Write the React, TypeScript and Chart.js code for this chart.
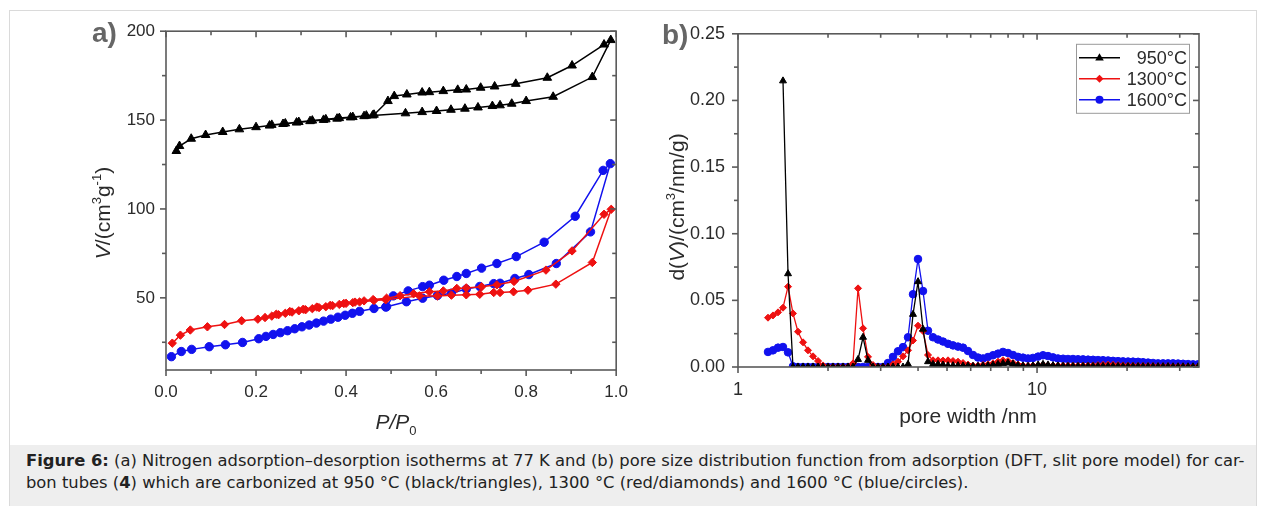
import React, { useEffect, useRef } from 'react';
import { Chart, registerables } from 'chart.js';

Chart.register(...registerables);

const FONT = '"Liberation Sans", Arial, Helvetica, sans-serif';

// ---------------- Panel a: N2 isotherms (P/P0 vs V) ----------------
const p950Ads = [0.023, 0.03, 0.056, 0.088, 0.126, 0.163, 0.2, 0.23, 0.26, 0.29, 0.32, 0.35, 0.38, 0.41, 0.44, 0.459, 0.532, 0.569, 0.601, 0.633, 0.664, 0.693, 0.725, 0.742, 0.768, 0.8, 0.86, 0.947, 0.988];
const v950Ads = [132.6, 135.4, 139.5, 141.6, 143.3, 144.8, 146, 146.9, 147.8, 148.6, 149.4, 150.1, 150.8, 151.5, 152.2, 152.6, 153.8, 154.5, 155.1, 155.8, 156.4, 157.1, 157.9, 158.3, 159.2, 160.7, 163.1, 174.2, 195.0];
const p950Des = [0.973, 0.902, 0.847, 0.777, 0.73, 0.699, 0.667, 0.648, 0.616, 0.585, 0.569, 0.535, 0.507, 0.493, 0.462, 0.445, 0.415, 0.385, 0.355, 0.325, 0.295, 0.265, 0.235];
const v950Des = [192.5, 180.7, 173.8, 170.4, 168.9, 168.2, 167.2, 167, 166.3, 165.7, 165.5, 164.4, 163.5, 160.7, 153.0, 152.5, 151.7, 151.1, 150.4, 149.7, 148.9, 148.1, 147.3];

const p1300Ads = [0.014, 0.032, 0.054, 0.092, 0.13, 0.168, 0.204, 0.22, 0.235, 0.25, 0.265, 0.28, 0.295, 0.31, 0.325, 0.34, 0.355, 0.37, 0.385, 0.4, 0.415, 0.43, 0.462, 0.488, 0.563, 0.603, 0.634, 0.667, 0.697, 0.728, 0.742, 0.772, 0.804, 0.866, 0.947, 0.989];
const v1300Ads = [24.5, 29, 31.9, 33.7, 35, 37.1, 38, 38.9, 39.7, 40.5, 41.3, 42, 42.7, 43.3, 43.9, 44.5, 45, 45.6, 46.3, 46.9, 47.3, 47.7, 48.5, 48.9, 51.1, 51.1, 51.5, 51.7, 52, 53, 53, 53.4, 54.3, 57.7, 69.9, 99.8];
const p1300Des = [0.973, 0.902, 0.844, 0.773, 0.735, 0.701, 0.667, 0.646, 0.616, 0.585, 0.55, 0.52, 0.49, 0.46, 0.44, 0.42, 0.395, 0.365, 0.335, 0.305, 0.275, 0.245];
const v1300Des = [97, 76.4, 65.6, 59.2, 57.3, 56.2, 55.6, 55.3, 53.9, 53.4, 52.3, 51.2, 49.8, 49.0, 48.3, 47.6, 46.8, 45.8, 44.8, 43.6, 42.3, 40.8];

const p1600Ads = [0.012, 0.034, 0.057, 0.096, 0.132, 0.17, 0.206, 0.222, 0.238, 0.254, 0.27, 0.286, 0.302, 0.318, 0.334, 0.35, 0.366, 0.382, 0.398, 0.414, 0.43, 0.462, 0.488, 0.534, 0.57, 0.603, 0.634, 0.667, 0.697, 0.728, 0.742, 0.775, 0.806, 0.867, 0.943, 0.987];
const v1600Ads = [16.9, 19.8, 21, 22.5, 23.6, 24.9, 27, 28.3, 29.4, 30.4, 31.5, 32.6, 33.7, 34.7, 35.8, 36.9, 38, 39.1, 40.2, 41.3, 42.4, 44, 44.8, 47.8, 49.8, 51.3, 52.6, 54.9, 56.4, 58, 58.2, 60.9, 63.1, 69.3, 87.1, 125.5];
const p1600Des = [0.971, 0.909, 0.84, 0.778, 0.735, 0.701, 0.667, 0.646, 0.617, 0.585, 0.57, 0.538, 0.505, 0.49];
const v1600Des = [121.7, 95.9, 81.3, 73.2, 69.3, 66.7, 63.7, 62, 59.9, 57.1, 56.3, 53.9, 51.1, 45.0];

const isoXTicks = [0, 0.2, 0.4, 0.6, 0.8, 1.0];
const isoXMinor = [0.1, 0.3, 0.5, 0.7, 0.9];
const isoYTicks = [50, 100, 150, 200];
const isoYMinor = [25, 75, 125, 175];

// ---------------- Panel b: pore size distribution ----------------
const poreWidth = [1.26, 1.309, 1.361, 1.414, 1.47, 1.527, 1.587, 1.65, 1.714, 1.782, 1.852, 1.924, 2.0, 2.078, 2.16, 2.245, 2.333, 2.424, 2.52, 2.619, 2.721, 2.828, 2.939, 3.054, 3.174, 3.299, 3.428, 3.563, 3.703, 3.848, 3.999, 4.156, 4.319, 4.489, 4.665, 4.848, 5.038, 5.236, 5.441, 5.655, 5.877, 6.107, 6.347, 6.596, 6.855, 7.124, 7.404, 7.694, 7.996, 8.31, 8.636, 8.975, 9.33, 9.69, 10.08, 10.47, 10.88, 11.31, 11.75, 12.22, 12.69, 13.19, 13.71, 14.25, 14.81, 15.39, 15.99, 16.62, 17.28, 17.95, 18.66, 19.39, 20.15, 20.94, 21.77, 22.62, 23.51, 24.43, 25.39, 26.39, 27.42, 28.5, 29.62, 30.78, 31.99, 33.24, 34.55];
const psd950 = [null, null, null, 0.2147, 0.07, 0, 0, 0, 0, 0, 0, 0, 0, 0, 0, 0, 0, 0, 0.0057, 0.0223, 0.005, 0, 0, 0, 0, 0, 0, 0, 0.002, 0.0395, 0.064, 0.0284, 0.004, 0.002, 0.002, 0.0015, 0.001, 0.001, 0.001, 0.0008, 0.0008, 0.0005, 0.0005, 0.0008, 0.001, 0.0015, 0.002, 0.0027, 0.003, 0.0022, 0.0012, 0.0008, 0.0005, 0.0008, 0.0015, 0.002, 0.0015, 0.001, 0.0008, 0.0006, 0.0005, 0.0005, 0.0005, 0.0005, 0.0005, 0.0005, 0.0005, 0.0005, 0.0005, 0.0005, 0.0005, 0.0004, 0.0004, 0.0004, 0.0004, 0.0003, 0.0003, 0.0003, 0.0003, 0.0003, 0.0003, 0.0002, 0.0002, 0.0002, 0.0002, 0.0002, 0.0002];
const psd1300 = [0.037, 0.0387, 0.041, 0.0445, 0.0603, 0.0402, 0.0265, 0.0185, 0.0125, 0.008, 0.0045, 0.0012, 0, 0, 0, 0, 0, 0.0027, 0.059, 0.029, 0.0076, 0.0015, 0, 0, 0, 0.002, 0.004, 0.008, 0.0125, 0.0199, 0.031, 0.027, 0.009, 0.005, 0.005, 0.0048, 0.005, 0.0045, 0.004, 0.003, 0.0018, 0.001, 0.001, 0.0015, 0.002, 0.0027, 0.004, 0.005, 0.0045, 0.003, 0.0018, 0.001, 0.0008, 0.001, 0.0012, 0.0015, 0.0012, 0.001, 0.001, 0.001, 0.001, 0.0009, 0.0009, 0.001, 0.0011, 0.0012, 0.0014, 0.0016, 0.0017, 0.0016, 0.0014, 0.0012, 0.001, 0.0009, 0.0008, 0.0008, 0.0007, 0.0007, 0.0006, 0.0006, 0.0006, 0.0005, 0.0005, 0.0005, 0.0004, 0.0004, 0.0004];
const psd1600 = [0.0113, 0.0125, 0.0145, 0.015, 0.011, 0.0005, 0, 0, 0, 0, 0, 0, 0, 0, 0, 0, 0, 0, 0, 0, 0, 0, 0, 0, 0.003, 0.0076, 0.0118, 0.0149, 0.0223, 0.0546, 0.081, 0.057, 0.0272, 0.0223, 0.0206, 0.0191, 0.0174, 0.0162, 0.0153, 0.0145, 0.012, 0.009, 0.0071, 0.0064, 0.0075, 0.0088, 0.01, 0.0113, 0.0105, 0.009, 0.0076, 0.007, 0.0064, 0.0068, 0.0078, 0.0088, 0.0082, 0.0072, 0.0064, 0.0062, 0.006, 0.006, 0.0058, 0.0057, 0.0055, 0.0054, 0.0052, 0.0051, 0.0049, 0.0046, 0.0044, 0.0042, 0.0041, 0.004, 0.0039, 0.0036, 0.0033, 0.003, 0.0027, 0.0027, 0.0027, 0.0027, 0.0026, 0.0024, 0.0022, 0.002, 0.002];

const psdXTicks = [1, 10];
const psdXMinor = [2, 3, 4, 5, 6, 7, 8, 9, 20, 30];
const psdYTicks = [0, 0.05, 0.1, 0.15, 0.2, 0.25];
const psdYMinor = [0.025, 0.075, 0.125, 0.175, 0.225];

const seriesLabels = ['950°C', '1300°C', '1600°C'];
const seriesColors = ['#000000', '#ee1111', '#1111ee'];
const seriesMarkers = ['triangle', 'rectRot', 'circle'];

type Seg = { t: string; italic?: boolean; sup?: boolean; sub?: boolean };

function drawRich(ctx: CanvasRenderingContext2D, segs: Seg[], cx: number, cy: number, size: number, color: string, rot: number) {
  ctx.save();
  ctx.translate(cx, cy);
  ctx.rotate(rot);
  const small = Math.round(size * 0.62);
  const font = (s: Seg) => `${s.italic ? 'italic ' : ''}${s.sup || s.sub ? small : size}px ${FONT}`;
  let total = 0;
  const ws = segs.map((s) => {
    ctx.font = font(s);
    const w = ctx.measureText(s.t).width;
    total += w;
    return w;
  });
  let x = -total / 2;
  const base = size * 0.36;
  ctx.fillStyle = color;
  ctx.textBaseline = 'alphabetic';
  ctx.textAlign = 'left';
  segs.forEach((s, i) => {
    ctx.font = font(s);
    const dy = s.sup ? -size * 0.4 : s.sub ? size * 0.3 : 0;
    ctx.fillText(s.t, x, base + dy);
    x += ws[i];
  });
  ctx.restore();
}

function drawMarker(ctx: CanvasRenderingContext2D, kind: string, x: number, y: number, r: number) {
  ctx.beginPath();
  if (kind === 'triangle') {
    ctx.moveTo(x, y - r);
    ctx.lineTo(x + r * 0.95, y + r * 0.6);
    ctx.lineTo(x - r * 0.95, y + r * 0.6);
    ctx.closePath();
  } else if (kind === 'rectRot') {
    ctx.moveTo(x, y - r);
    ctx.lineTo(x + r, y);
    ctx.lineTo(x, y + r);
    ctx.lineTo(x - r, y);
    ctx.closePath();
  } else {
    ctx.arc(x, y, r, 0, Math.PI * 2);
  }
  ctx.fill();
}

function framePlugin(xMajor: number[], xMinor: number[], yMajor: number[], yMinor: number[]) {
  return {
    id: 'frame',
    afterDatasetsDraw(chart: any) {
      const { ctx, chartArea: a, scales } = chart;
      const sx = scales.x;
      const sy = scales.y;
      ctx.save();
      ctx.strokeStyle = '#5a5a5a';
      ctx.lineWidth = 1.6;
      ctx.strokeRect(a.left, a.top, a.right - a.left, a.bottom - a.top);
      const line = (x1: number, y1: number, x2: number, y2: number) => {
        ctx.beginPath();
        ctx.moveTo(x1, y1);
        ctx.lineTo(x2, y2);
        ctx.stroke();
      };
      const xt = (vals: number[], len: number) => vals.forEach((v) => {
        const p = sx.getPixelForValue(v);
        line(p, a.bottom, p, a.bottom + len);
        line(p, a.top, p, a.top + len);
      });
      const yt = (vals: number[], len: number) => vals.forEach((v) => {
        const p = sy.getPixelForValue(v);
        line(a.left - len, p, a.left, p);
        line(a.right, p, a.right - len, p);
      });
      xt(xMajor, 6);
      xt(xMinor, 4);
      yt(yMajor, 6);
      yt(yMinor, 4);
      ctx.restore();
    },
  };
}

type TextItem = { segs: Seg[]; x: number; y: number; size: number; rot: number };

function textPlugin(items: TextItem[], panel: { t: string; x: number; y: number }, legend: boolean) {
  return {
    id: 'texts',
    afterDraw(chart: any) {
      const ctx = chart.ctx as CanvasRenderingContext2D;
      items.forEach((it) => drawRich(ctx, it.segs, it.x, it.y, it.size, '#2b2b2b', it.rot));
      ctx.save();
      ctx.font = `bold 28px ${FONT}`;
      ctx.fillStyle = '#666666';
      ctx.textBaseline = 'alphabetic';
      ctx.textAlign = 'left';
      ctx.fillText(panel.t, panel.x, panel.y);
      ctx.restore();
      if (legend) {
        const a = chart.chartArea;
        const lx = a.right - 123;
        const ly = a.top + 10;
        const lw = 113;
        const lh = 69;
        ctx.save();
        ctx.fillStyle = '#ffffff';
        ctx.fillRect(lx, ly, lw, lh);
        ctx.strokeStyle = '#9a9a9a';
        ctx.lineWidth = 1;
        ctx.strokeRect(lx + 0.5, ly + 0.5, lw, lh);
        seriesLabels.forEach((lab, i) => {
          const ry = ly + 14 + i * 21;
          ctx.strokeStyle = seriesColors[i];
          ctx.lineWidth = 1.5;
          ctx.beginPath();
          ctx.moveTo(lx + 3, ry);
          ctx.lineTo(lx + 44, ry);
          ctx.stroke();
          ctx.fillStyle = seriesColors[i];
          drawMarker(ctx, seriesMarkers[i], lx + 23.5, ry, i === 0 ? 4.5 : 4);
          ctx.fillStyle = '#2b2b2b';
          ctx.font = `18px ${FONT}`;
          ctx.textAlign = 'right';
          ctx.textBaseline = 'middle';
          ctx.fillText(lab, lx + lw - 2, ry + 1);
        });
        ctx.restore();
      }
    },
  };
}

function loop(pA: number[], vA: number[], pD: number[], vD: number[]) {
  return [...pA.map((x, i) => ({ x, y: vA[i] })), ...pD.map((x, i) => ({ x, y: vD[i] }))];
}

function axisCommon(size: number, padding: number) {
  return {
    grid: { display: false, drawTicks: false },
    border: { display: false },
    ticks: { font: { family: FONT, size }, color: '#2b2b2b', padding, maxRotation: 0, autoSkip: false },
  };
}

function isoConfig(): any {
  const ds = (i: number, data: any[]) => ({
    label: seriesLabels[i],
    data,
    showLine: true,
    borderColor: seriesColors[i],
    backgroundColor: seriesColors[i],
    borderWidth: 1.5,
    pointStyle: seriesMarkers[i],
    pointRadius: i === 0 ? 5 : 4.2,
    pointBorderWidth: 1,
    pointBorderColor: seriesColors[i],
  });
  const xc = axisCommon(17, 12);
  const yc = axisCommon(17, 11);
  return {
    type: 'scatter',
    data: {
      datasets: [
        ds(0, loop(p950Ads, v950Ads, p950Des, v950Des)),
        ds(1, loop(p1300Ads, v1300Ads, p1300Des, v1300Des)),
        ds(2, loop(p1600Ads, v1600Ads, p1600Des, v1600Des)),
      ],
    },
    options: {
      animation: false,
      responsive: false,
      devicePixelRatio: 1,
      layout: { padding: { left: 0, top: 19, right: 14, bottom: 0 } },
      plugins: { legend: { display: false }, tooltip: { enabled: false } },
      scales: {
        x: {
          type: 'linear', min: 0, max: 1, ...xc,
          ticks: { ...xc.ticks, callback: (v: any) => Number(v).toFixed(1) },
          afterBuildTicks: (s: any) => { s.ticks = isoXTicks.map((value) => ({ value })); },
          afterFit: (s: any) => { s.height = 70; },
        },
        y: {
          type: 'linear', min: 9.4, max: 200, ...yc,
          ticks: { ...yc.ticks, callback: (v: any) => String(v) },
          afterBuildTicks: (s: any) => { s.ticks = isoYTicks.map((value) => ({ value })); },
          afterFit: (s: any) => { s.width = 156; },
        },
      },
    },
    plugins: [
      framePlugin(isoXTicks, isoXMinor, isoYTicks, isoYMinor),
      textPlugin(
        [
          { segs: [{ t: 'V', italic: true }, { t: '/(cm' }, { t: '3', sup: true }, { t: 'g' }, { t: '-1', sup: true }, { t: ')' }], x: 92, y: 203, size: 21, rot: -Math.PI / 2 },
          { segs: [{ t: 'P', italic: true }, { t: '/', italic: true }, { t: 'P', italic: true }, { t: '0', sub: true }], x: 386, y: 411, size: 21, rot: 0 },
        ],
        { t: 'a)', x: 82, y: 32 },
        false,
      ),
    ],
  };
}

function psdConfig(): any {
  const ds = (i: number, vals: (number | null)[]) => ({
    label: seriesLabels[i],
    data: poreWidth.map((x, k) => ({ x, y: vals[k] })),
    showLine: true,
    borderColor: seriesColors[i],
    backgroundColor: seriesColors[i],
    borderWidth: 1.3,
    pointStyle: seriesMarkers[i],
    pointRadius: i === 0 ? 4 : i === 1 ? 3.5 : 3.8,
    pointBorderWidth: 1,
    pointBorderColor: seriesColors[i],
    spanGaps: false,
  });
  const xc = axisCommon(18, 12);
  const yc = axisCommon(18, 13);
  return {
    type: 'scatter',
    data: { datasets: [ds(0, psd950), ds(1, psd1300), ds(2, psd1600)] },
    options: {
      animation: false,
      responsive: false,
      devicePixelRatio: 1,
      layout: { padding: { left: 0, top: 17, right: 56, bottom: 0 } },
      plugins: { legend: { display: false }, tooltip: { enabled: false } },
      scales: {
        x: {
          type: 'logarithmic', min: 1, max: 34.8, ...xc,
          ticks: { ...xc.ticks, callback: (v: any) => String(v) },
          afterBuildTicks: (s: any) => { s.ticks = psdXTicks.map((value) => ({ value })); },
          afterFit: (s: any) => { s.height = 73; },
        },
        y: {
          type: 'linear', min: 0, max: 0.25, ...yc,
          ticks: { ...yc.ticks, callback: (v: any) => Number(v).toFixed(2) },
          afterBuildTicks: (s: any) => { s.ticks = psdYTicks.map((value) => ({ value })); },
          afterFit: (s: any) => { s.width = 98; },
        },
      },
    },
    plugins: [
      framePlugin(psdXTicks, psdXMinor, psdYTicks, psdYMinor),
      textPlugin(
        [
          { segs: [{ t: 'd(' }, { t: 'V', italic: true }, { t: ')/(cm' }, { t: '3', sup: true }, { t: '/nm/g)' }], x: 36, y: 197, size: 21, rot: -Math.PI / 2 },
          { segs: [{ t: 'pore width /nm' }], x: 328, y: 405, size: 21, rot: 0 },
        ],
        { t: 'b)', x: 22, y: 34 },
        true,
      ),
    ],
  };
}

export default function App() {
  const leftRef = useRef<HTMLCanvasElement>(null);
  const rightRef = useRef<HTMLCanvasElement>(null);

  useEffect(() => {
    const c1 = new Chart(leftRef.current as HTMLCanvasElement, isoConfig());
    const c2 = new Chart(rightRef.current as HTMLCanvasElement, psdConfig());
    return () => {
      c1.destroy();
      c2.destroy();
    };
  }, []);

  return (
    <div>
      <div
        style={{
          position: 'absolute', left: 9, top: 10, width: 1248, height: 496,
          borderTop: '1px solid #dadada', borderLeft: '1px solid #dadada', borderRight: '1px solid #dadada',
          boxSizing: 'border-box', background: '#ffffff',
        }}
      />
      <canvas ref={leftRef} width={630} height={430} style={{ position: 'absolute', left: 10, top: 10 }} />
      <canvas ref={rightRef} width={615} height={430} style={{ position: 'absolute', left: 640, top: 10 }} />
      <div
        style={{
          position: 'absolute', left: 10, top: 445, width: 1246, height: 61, background: '#eeeeee',
          fontFamily: '"DejaVu Sans", Verdana, sans-serif', fontSize: 16.35, lineHeight: '22px', color: '#222222', paddingTop: 5, paddingLeft: 16,
          boxSizing: 'border-box', whiteSpace: 'nowrap', overflow: 'hidden',
        }}
      >
        <b>Figure 6:</b> (a) Nitrogen adsorption–desorption isotherms at 77 K and (b) pore size distribution function from adsorption (DFT, slit pore model) for car-
        <br />
        bon tubes (<b>4</b>) which are carbonized at 950 °C (black/triangles), 1300 °C (red/diamonds) and 1600 °C (blue/circles).
      </div>
    </div>
  );
}
